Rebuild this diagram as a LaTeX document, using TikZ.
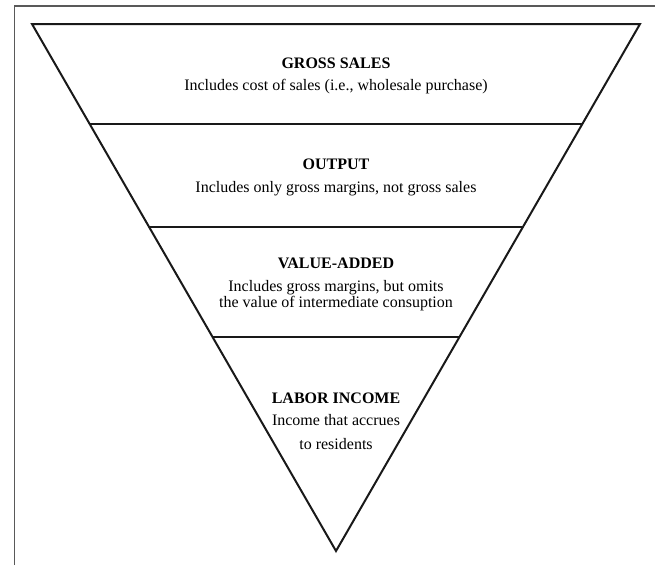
\documentclass[tikz,border=0pt]{standalone}
\usepackage{fontspec}
\setmainfont{Liberation Serif}
\begin{document}
\begin{tikzpicture}[x=1pt,y=-1pt,
  frameline/.style={draw=black!65,line width=1.3pt},
  tri/.style={draw=black!90,line width=2pt,line join=miter},
  band/.style={draw=black!90,line width=2pt},
  head/.style={font=\fontsize{16}{18}\selectfont\bfseries,anchor=base},
  body/.style={font=\fontsize{16}{18}\selectfont,anchor=base}]
\useasboundingbox (0,0) rectangle (655,565);
\coordinate (fb) at (14.5,565);
\coordinate (fc) at (14.5,6);
\coordinate (fr) at (655,6);
\draw[frameline] (fb) -- (fc) -- (fr);
\coordinate (tl) at (32,24);
\coordinate (tr) at (640,24);
\coordinate (ap) at (336,551);
\draw[tri] (tl) -- (tr) -- (ap) -- cycle;
\coordinate (l1) at (89.7,124); \coordinate (r1) at (582.3,124);
\coordinate (l2) at (149,227); \coordinate (r2) at (523,227);
\coordinate (l3) at (212.5,337); \coordinate (r3) at (459.5,337);
\draw[band] (l1) -- (r1);
\draw[band] (l2) -- (r2);
\draw[band] (l3) -- (r3);
\node[head] (h1) at (336,68.3) {GROSS SALES};
\node[body] (b1) at (336,90.5) {Includes cost of sales (i.e., wholesale purchase)};
\node[head] (h2) at (336,169.3) {OUTPUT};
\node[body] (b2) at (336,192) {Includes only gross margins, not gross sales};
\node[head] (h3) at (336,268.3) {VALUE-ADDED};
\node[body] (b3) at (336,291.5) {Includes gross margins, but omits};
\node[body] (b3b) at (336,307) {the value of intermediate consuption};
\node[head] (h4) at (336,403) {LABOR INCOME};
\node[body] (b4) at (336,425) {Income that accrues};
\node[body] (b4b) at (336,449) {to residents};
\end{tikzpicture}
\end{document}
